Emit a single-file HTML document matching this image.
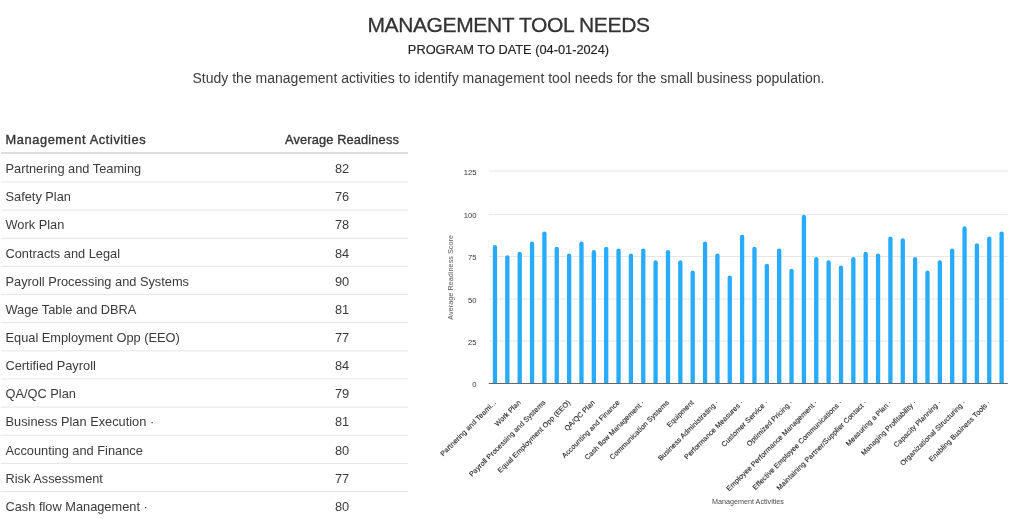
<!DOCTYPE html>
<html><head><meta charset="utf-8"><title>Management Tool Needs</title>
<style>
html,body{margin:0;padding:0;background:#fff;}
body{width:1024px;height:519px;overflow:hidden;position:relative;font-family:"Liberation Sans",sans-serif;color:#444;}
.t{position:absolute;left:0;width:1017px;text-align:center;white-space:nowrap;}
#title{top:13.3px;font-size:21px;line-height:24px;color:#333;letter-spacing:-0.36px;-webkit-text-stroke:0.3px #333;}
#sub{top:42.3px;font-size:12.8px;line-height:16px;color:#222;-webkit-text-stroke:0.15px #222;}
#desc{top:68.6px;font-size:14px;line-height:18px;color:#3c3c3c;}
.hdr{position:absolute;left:1px;top:126px;width:407px;height:26px;border-bottom:2px solid #ddd;font-size:12.8px;color:#333;}
.row{position:absolute;left:1px;width:407px;height:27.1px;font-size:12.8px;color:#3a3a3a;}
.c1{position:absolute;left:4.5px;top:8.4px;line-height:14px;white-space:nowrap;}
.c2{position:absolute;left:275px;width:132px;text-align:center;top:8.4px;line-height:14px;}
.hdr .c1,.hdr .c2{top:6.7px;-webkit-text-stroke:0.35px #333;}
.hdr .c1{letter-spacing:0.6px;}
.hdr .c2{letter-spacing:0.15px;}
.wrap{position:absolute;left:0;top:0;width:1024px;height:519px;will-change:transform;}
svg text{font-family:"Liberation Sans",sans-serif;}
</style></head><body><div class="wrap">
<div class="t" id="title">MANAGEMENT TOOL NEEDS</div>
<div class="t" id="sub">PROGRAM TO DATE (04-01-2024)</div>
<div class="t" id="desc">Study the management activities to identify management tool needs for the small business population.</div>
<div class="hdr"><span class="c1">Management Activities</span><span class="c2">Average Readiness</span></div>
<div class="row" style="top:153.80px"><span class="c1">Partnering and Teaming</span><span class="c2">82</span></div><div class="row" style="top:181.94px"><span class="c1">Safety Plan</span><span class="c2">76</span></div><div class="row" style="top:210.08px"><span class="c1">Work Plan</span><span class="c2">78</span></div><div class="row" style="top:238.22px"><span class="c1">Contracts and Legal</span><span class="c2">84</span></div><div class="row" style="top:266.36px"><span class="c1">Payroll Processing and Systems</span><span class="c2">90</span></div><div class="row" style="top:294.50px"><span class="c1">Wage Table and DBRA</span><span class="c2">81</span></div><div class="row" style="top:322.64px"><span class="c1">Equal Employment Opp (EEO)</span><span class="c2">77</span></div><div class="row" style="top:350.78px"><span class="c1">Certified Payroll</span><span class="c2">84</span></div><div class="row" style="top:378.92px"><span class="c1">QA/QC Plan</span><span class="c2">79</span></div><div class="row" style="top:407.06px"><span class="c1">Business Plan Execution ·</span><span class="c2">81</span></div><div class="row" style="top:435.20px"><span class="c1">Accounting and Finance</span><span class="c2">80</span></div><div class="row" style="top:463.34px"><span class="c1">Risk Assessment</span><span class="c2">77</span></div><div class="row" style="top:491.48px"><span class="c1">Cash flow Management ·</span><span class="c2">80</span></div>
<svg width="1024" height="519" style="position:absolute;left:0;top:0"><line x1="1" x2="408" y1="491.54" y2="491.54" stroke="#e6e6e6" stroke-width="1"/><line x1="1" x2="408" y1="463.40" y2="463.40" stroke="#e6e6e6" stroke-width="1"/><line x1="1" x2="408" y1="435.26" y2="435.26" stroke="#e6e6e6" stroke-width="1"/><line x1="1" x2="408" y1="407.12" y2="407.12" stroke="#e6e6e6" stroke-width="1"/><line x1="1" x2="408" y1="378.98" y2="378.98" stroke="#e6e6e6" stroke-width="1"/><line x1="1" x2="408" y1="350.84" y2="350.84" stroke="#e6e6e6" stroke-width="1"/><line x1="1" x2="408" y1="322.70" y2="322.70" stroke="#e6e6e6" stroke-width="1"/><line x1="1" x2="408" y1="294.56" y2="294.56" stroke="#e6e6e6" stroke-width="1"/><line x1="1" x2="408" y1="266.42" y2="266.42" stroke="#e6e6e6" stroke-width="1"/><line x1="1" x2="408" y1="238.28" y2="238.28" stroke="#e6e6e6" stroke-width="1"/><line x1="1" x2="408" y1="210.14" y2="210.14" stroke="#e6e6e6" stroke-width="1"/><line x1="1" x2="408" y1="182.00" y2="182.00" stroke="#e6e6e6" stroke-width="1"/><line x1="488.80" x2="1007.80" y1="341.00" y2="341.00" stroke="#e6e6e6" stroke-width="1"/><line x1="488.80" x2="1007.80" y1="299.00" y2="299.00" stroke="#e6e6e6" stroke-width="1"/><line x1="488.80" x2="1007.80" y1="256.50" y2="256.50" stroke="#e6e6e6" stroke-width="1"/><line x1="488.80" x2="1007.80" y1="214.40" y2="214.40" stroke="#e6e6e6" stroke-width="1"/><line x1="488.80" x2="1007.80" y1="171.00" y2="171.00" stroke="#e6e6e6" stroke-width="1"/><text x="476.5" y="387.20" text-anchor="end" font-size="7.6" fill="#333">0</text><text x="476.5" y="344.70" text-anchor="end" font-size="7.6" fill="#333">25</text><text x="476.5" y="302.70" text-anchor="end" font-size="7.6" fill="#333">50</text><text x="476.5" y="260.20" text-anchor="end" font-size="7.6" fill="#333">75</text><text x="476.5" y="218.10" text-anchor="end" font-size="7.6" fill="#333">100</text><text x="476.5" y="174.70" text-anchor="end" font-size="7.6" fill="#333">125</text><path d="M492.83,383.50 V247.15 A2.15,2.15 0 0 1 497.13,247.15 V383.50 Z" fill="rgb(40,171,253)"/><path d="M505.19,383.50 V257.35 A2.15,2.15 0 0 1 509.49,257.35 V383.50 Z" fill="rgb(40,171,253)"/><path d="M517.54,383.50 V253.95 A2.15,2.15 0 0 1 521.84,253.95 V383.50 Z" fill="rgb(40,171,253)"/><path d="M529.90,383.50 V243.75 A2.15,2.15 0 0 1 534.20,243.75 V383.50 Z" fill="rgb(40,171,253)"/><path d="M542.26,383.50 V233.55 A2.15,2.15 0 0 1 546.56,233.55 V383.50 Z" fill="rgb(40,171,253)"/><path d="M554.61,383.50 V248.85 A2.15,2.15 0 0 1 558.91,248.85 V383.50 Z" fill="rgb(40,171,253)"/><path d="M566.97,383.50 V255.65 A2.15,2.15 0 0 1 571.27,255.65 V383.50 Z" fill="rgb(40,171,253)"/><path d="M579.33,383.50 V243.75 A2.15,2.15 0 0 1 583.63,243.75 V383.50 Z" fill="rgb(40,171,253)"/><path d="M591.69,383.50 V252.25 A2.15,2.15 0 0 1 595.99,252.25 V383.50 Z" fill="rgb(40,171,253)"/><path d="M604.04,383.50 V248.85 A2.15,2.15 0 0 1 608.34,248.85 V383.50 Z" fill="rgb(40,171,253)"/><path d="M616.40,383.50 V250.55 A2.15,2.15 0 0 1 620.70,250.55 V383.50 Z" fill="rgb(40,171,253)"/><path d="M628.76,383.50 V255.65 A2.15,2.15 0 0 1 633.06,255.65 V383.50 Z" fill="rgb(40,171,253)"/><path d="M641.11,383.50 V250.55 A2.15,2.15 0 0 1 645.41,250.55 V383.50 Z" fill="rgb(40,171,253)"/><path d="M653.47,383.50 V262.45 A2.15,2.15 0 0 1 657.77,262.45 V383.50 Z" fill="rgb(40,171,253)"/><path d="M665.83,383.50 V252.25 A2.15,2.15 0 0 1 670.13,252.25 V383.50 Z" fill="rgb(40,171,253)"/><path d="M678.19,383.50 V262.45 A2.15,2.15 0 0 1 682.49,262.45 V383.50 Z" fill="rgb(40,171,253)"/><path d="M690.54,383.50 V272.65 A2.15,2.15 0 0 1 694.84,272.65 V383.50 Z" fill="rgb(40,171,253)"/><path d="M702.90,383.50 V243.75 A2.15,2.15 0 0 1 707.20,243.75 V383.50 Z" fill="rgb(40,171,253)"/><path d="M715.26,383.50 V255.65 A2.15,2.15 0 0 1 719.56,255.65 V383.50 Z" fill="rgb(40,171,253)"/><path d="M727.61,383.50 V277.75 A2.15,2.15 0 0 1 731.91,277.75 V383.50 Z" fill="rgb(40,171,253)"/><path d="M739.97,383.50 V236.95 A2.15,2.15 0 0 1 744.27,236.95 V383.50 Z" fill="rgb(40,171,253)"/><path d="M752.33,383.50 V248.85 A2.15,2.15 0 0 1 756.63,248.85 V383.50 Z" fill="rgb(40,171,253)"/><path d="M764.69,383.50 V265.85 A2.15,2.15 0 0 1 768.99,265.85 V383.50 Z" fill="rgb(40,171,253)"/><path d="M777.04,383.50 V250.55 A2.15,2.15 0 0 1 781.34,250.55 V383.50 Z" fill="rgb(40,171,253)"/><path d="M789.40,383.50 V270.95 A2.15,2.15 0 0 1 793.70,270.95 V383.50 Z" fill="rgb(40,171,253)"/><path d="M801.76,383.50 V216.89 A2.15,2.15 0 0 1 806.06,216.89 V383.50 Z" fill="rgb(40,171,253)"/><path d="M814.11,383.50 V259.05 A2.15,2.15 0 0 1 818.41,259.05 V383.50 Z" fill="rgb(40,171,253)"/><path d="M826.47,383.50 V262.45 A2.15,2.15 0 0 1 830.77,262.45 V383.50 Z" fill="rgb(40,171,253)"/><path d="M838.83,383.50 V267.55 A2.15,2.15 0 0 1 843.13,267.55 V383.50 Z" fill="rgb(40,171,253)"/><path d="M851.19,383.50 V259.05 A2.15,2.15 0 0 1 855.49,259.05 V383.50 Z" fill="rgb(40,171,253)"/><path d="M863.54,383.50 V253.95 A2.15,2.15 0 0 1 867.84,253.95 V383.50 Z" fill="rgb(40,171,253)"/><path d="M875.90,383.50 V255.65 A2.15,2.15 0 0 1 880.20,255.65 V383.50 Z" fill="rgb(40,171,253)"/><path d="M888.26,383.50 V238.65 A2.15,2.15 0 0 1 892.56,238.65 V383.50 Z" fill="rgb(40,171,253)"/><path d="M900.61,383.50 V240.35 A2.15,2.15 0 0 1 904.91,240.35 V383.50 Z" fill="rgb(40,171,253)"/><path d="M912.97,383.50 V259.05 A2.15,2.15 0 0 1 917.27,259.05 V383.50 Z" fill="rgb(40,171,253)"/><path d="M925.33,383.50 V272.65 A2.15,2.15 0 0 1 929.63,272.65 V383.50 Z" fill="rgb(40,171,253)"/><path d="M937.69,383.50 V262.45 A2.15,2.15 0 0 1 941.99,262.45 V383.50 Z" fill="rgb(40,171,253)"/><path d="M950.04,383.50 V250.55 A2.15,2.15 0 0 1 954.34,250.55 V383.50 Z" fill="rgb(40,171,253)"/><path d="M962.40,383.50 V228.45 A2.15,2.15 0 0 1 966.70,228.45 V383.50 Z" fill="rgb(40,171,253)"/><path d="M974.76,383.50 V245.45 A2.15,2.15 0 0 1 979.06,245.45 V383.50 Z" fill="rgb(40,171,253)"/><path d="M987.11,383.50 V238.65 A2.15,2.15 0 0 1 991.41,238.65 V383.50 Z" fill="rgb(40,171,253)"/><path d="M999.47,383.50 V233.55 A2.15,2.15 0 0 1 1003.77,233.55 V383.50 Z" fill="rgb(40,171,253)"/><line x1="488.80" x2="1007.80" y1="383.50" y2="383.50" stroke="#666" stroke-width="1"/><text x="496.58" y="403.00" text-anchor="end" font-size="7.1" letter-spacing="0.1" fill="#222" stroke="#222" stroke-width="0.12" transform="rotate(-45 496.58 403.00)">Partnering and Teami...</text><text x="521.29" y="403.00" text-anchor="end" font-size="7.1" letter-spacing="0.1" fill="#222" stroke="#222" stroke-width="0.12" transform="rotate(-45 521.29 403.00)">Work Plan</text><text x="546.01" y="403.00" text-anchor="end" font-size="7.1" letter-spacing="0.1" fill="#222" stroke="#222" stroke-width="0.12" transform="rotate(-45 546.01 403.00)">Payroll Processing and Systems</text><text x="570.72" y="403.00" text-anchor="end" font-size="7.1" letter-spacing="0.1" fill="#222" stroke="#222" stroke-width="0.12" transform="rotate(-45 570.72 403.00)">Equal Employment Opp (EEO)</text><text x="595.44" y="403.00" text-anchor="end" font-size="7.1" letter-spacing="0.1" fill="#222" stroke="#222" stroke-width="0.12" transform="rotate(-45 595.44 403.00)">QA/QC Plan</text><text x="620.15" y="403.00" text-anchor="end" font-size="7.1" letter-spacing="0.1" fill="#222" stroke="#222" stroke-width="0.12" transform="rotate(-45 620.15 403.00)">Accounting and Finance</text><text x="644.86" y="403.00" text-anchor="end" font-size="7.1" letter-spacing="0.1" fill="#222" stroke="#222" stroke-width="0.12" transform="rotate(-45 644.86 403.00)">Cash flow Management ·</text><text x="669.58" y="403.00" text-anchor="end" font-size="7.1" letter-spacing="0.1" fill="#222" stroke="#222" stroke-width="0.12" transform="rotate(-45 669.58 403.00)">Communication Systems</text><text x="694.29" y="403.00" text-anchor="end" font-size="7.1" letter-spacing="0.1" fill="#222" stroke="#222" stroke-width="0.12" transform="rotate(-45 694.29 403.00)">Equipment</text><text x="719.01" y="403.00" text-anchor="end" font-size="7.1" letter-spacing="0.1" fill="#222" stroke="#222" stroke-width="0.12" transform="rotate(-45 719.01 403.00)">Business Administrating ·</text><text x="743.72" y="403.00" text-anchor="end" font-size="7.1" letter-spacing="0.1" fill="#222" stroke="#222" stroke-width="0.12" transform="rotate(-45 743.72 403.00)">Performance Measures ·</text><text x="768.44" y="403.00" text-anchor="end" font-size="7.1" letter-spacing="0.1" fill="#222" stroke="#222" stroke-width="0.12" transform="rotate(-45 768.44 403.00)">Customer Service ·</text><text x="793.15" y="403.00" text-anchor="end" font-size="7.1" letter-spacing="0.1" fill="#222" stroke="#222" stroke-width="0.12" transform="rotate(-45 793.15 403.00)">Optimized Pricing ·</text><text x="817.86" y="403.00" text-anchor="end" font-size="7.1" letter-spacing="0.1" fill="#222" stroke="#222" stroke-width="0.12" transform="rotate(-45 817.86 403.00)">Employee Performance Management ·</text><text x="842.58" y="403.00" text-anchor="end" font-size="7.1" letter-spacing="0.1" fill="#222" stroke="#222" stroke-width="0.12" transform="rotate(-45 842.58 403.00)">Effective Employee Communications ·</text><text x="867.29" y="403.00" text-anchor="end" font-size="7.1" letter-spacing="0.1" fill="#222" stroke="#222" stroke-width="0.12" transform="rotate(-45 867.29 403.00)">Maintaining Partner/Supplier Contact ·</text><text x="892.01" y="403.00" text-anchor="end" font-size="7.1" letter-spacing="0.1" fill="#222" stroke="#222" stroke-width="0.12" transform="rotate(-45 892.01 403.00)">Measuring a Plan ·</text><text x="916.72" y="403.00" text-anchor="end" font-size="7.1" letter-spacing="0.1" fill="#222" stroke="#222" stroke-width="0.12" transform="rotate(-45 916.72 403.00)">Managing Profitability ·</text><text x="941.44" y="403.00" text-anchor="end" font-size="7.1" letter-spacing="0.1" fill="#222" stroke="#222" stroke-width="0.12" transform="rotate(-45 941.44 403.00)">Capacity Planning ·</text><text x="966.15" y="403.00" text-anchor="end" font-size="7.1" letter-spacing="0.1" fill="#222" stroke="#222" stroke-width="0.12" transform="rotate(-45 966.15 403.00)">Organizational Structuring ·</text><text x="990.86" y="403.00" text-anchor="end" font-size="7.1" letter-spacing="0.1" fill="#222" stroke="#222" stroke-width="0.12" transform="rotate(-45 990.86 403.00)">Enabling Business Tools ·</text><text x="748" y="504" text-anchor="middle" font-size="7.2" fill="#4a4a4a">Management Activities</text><text x="0" y="0" text-anchor="middle" font-size="7.3" fill="#555" transform="translate(453.2 277.3) rotate(-90)">Average Readiness Score</text></svg>
</div></body></html>
